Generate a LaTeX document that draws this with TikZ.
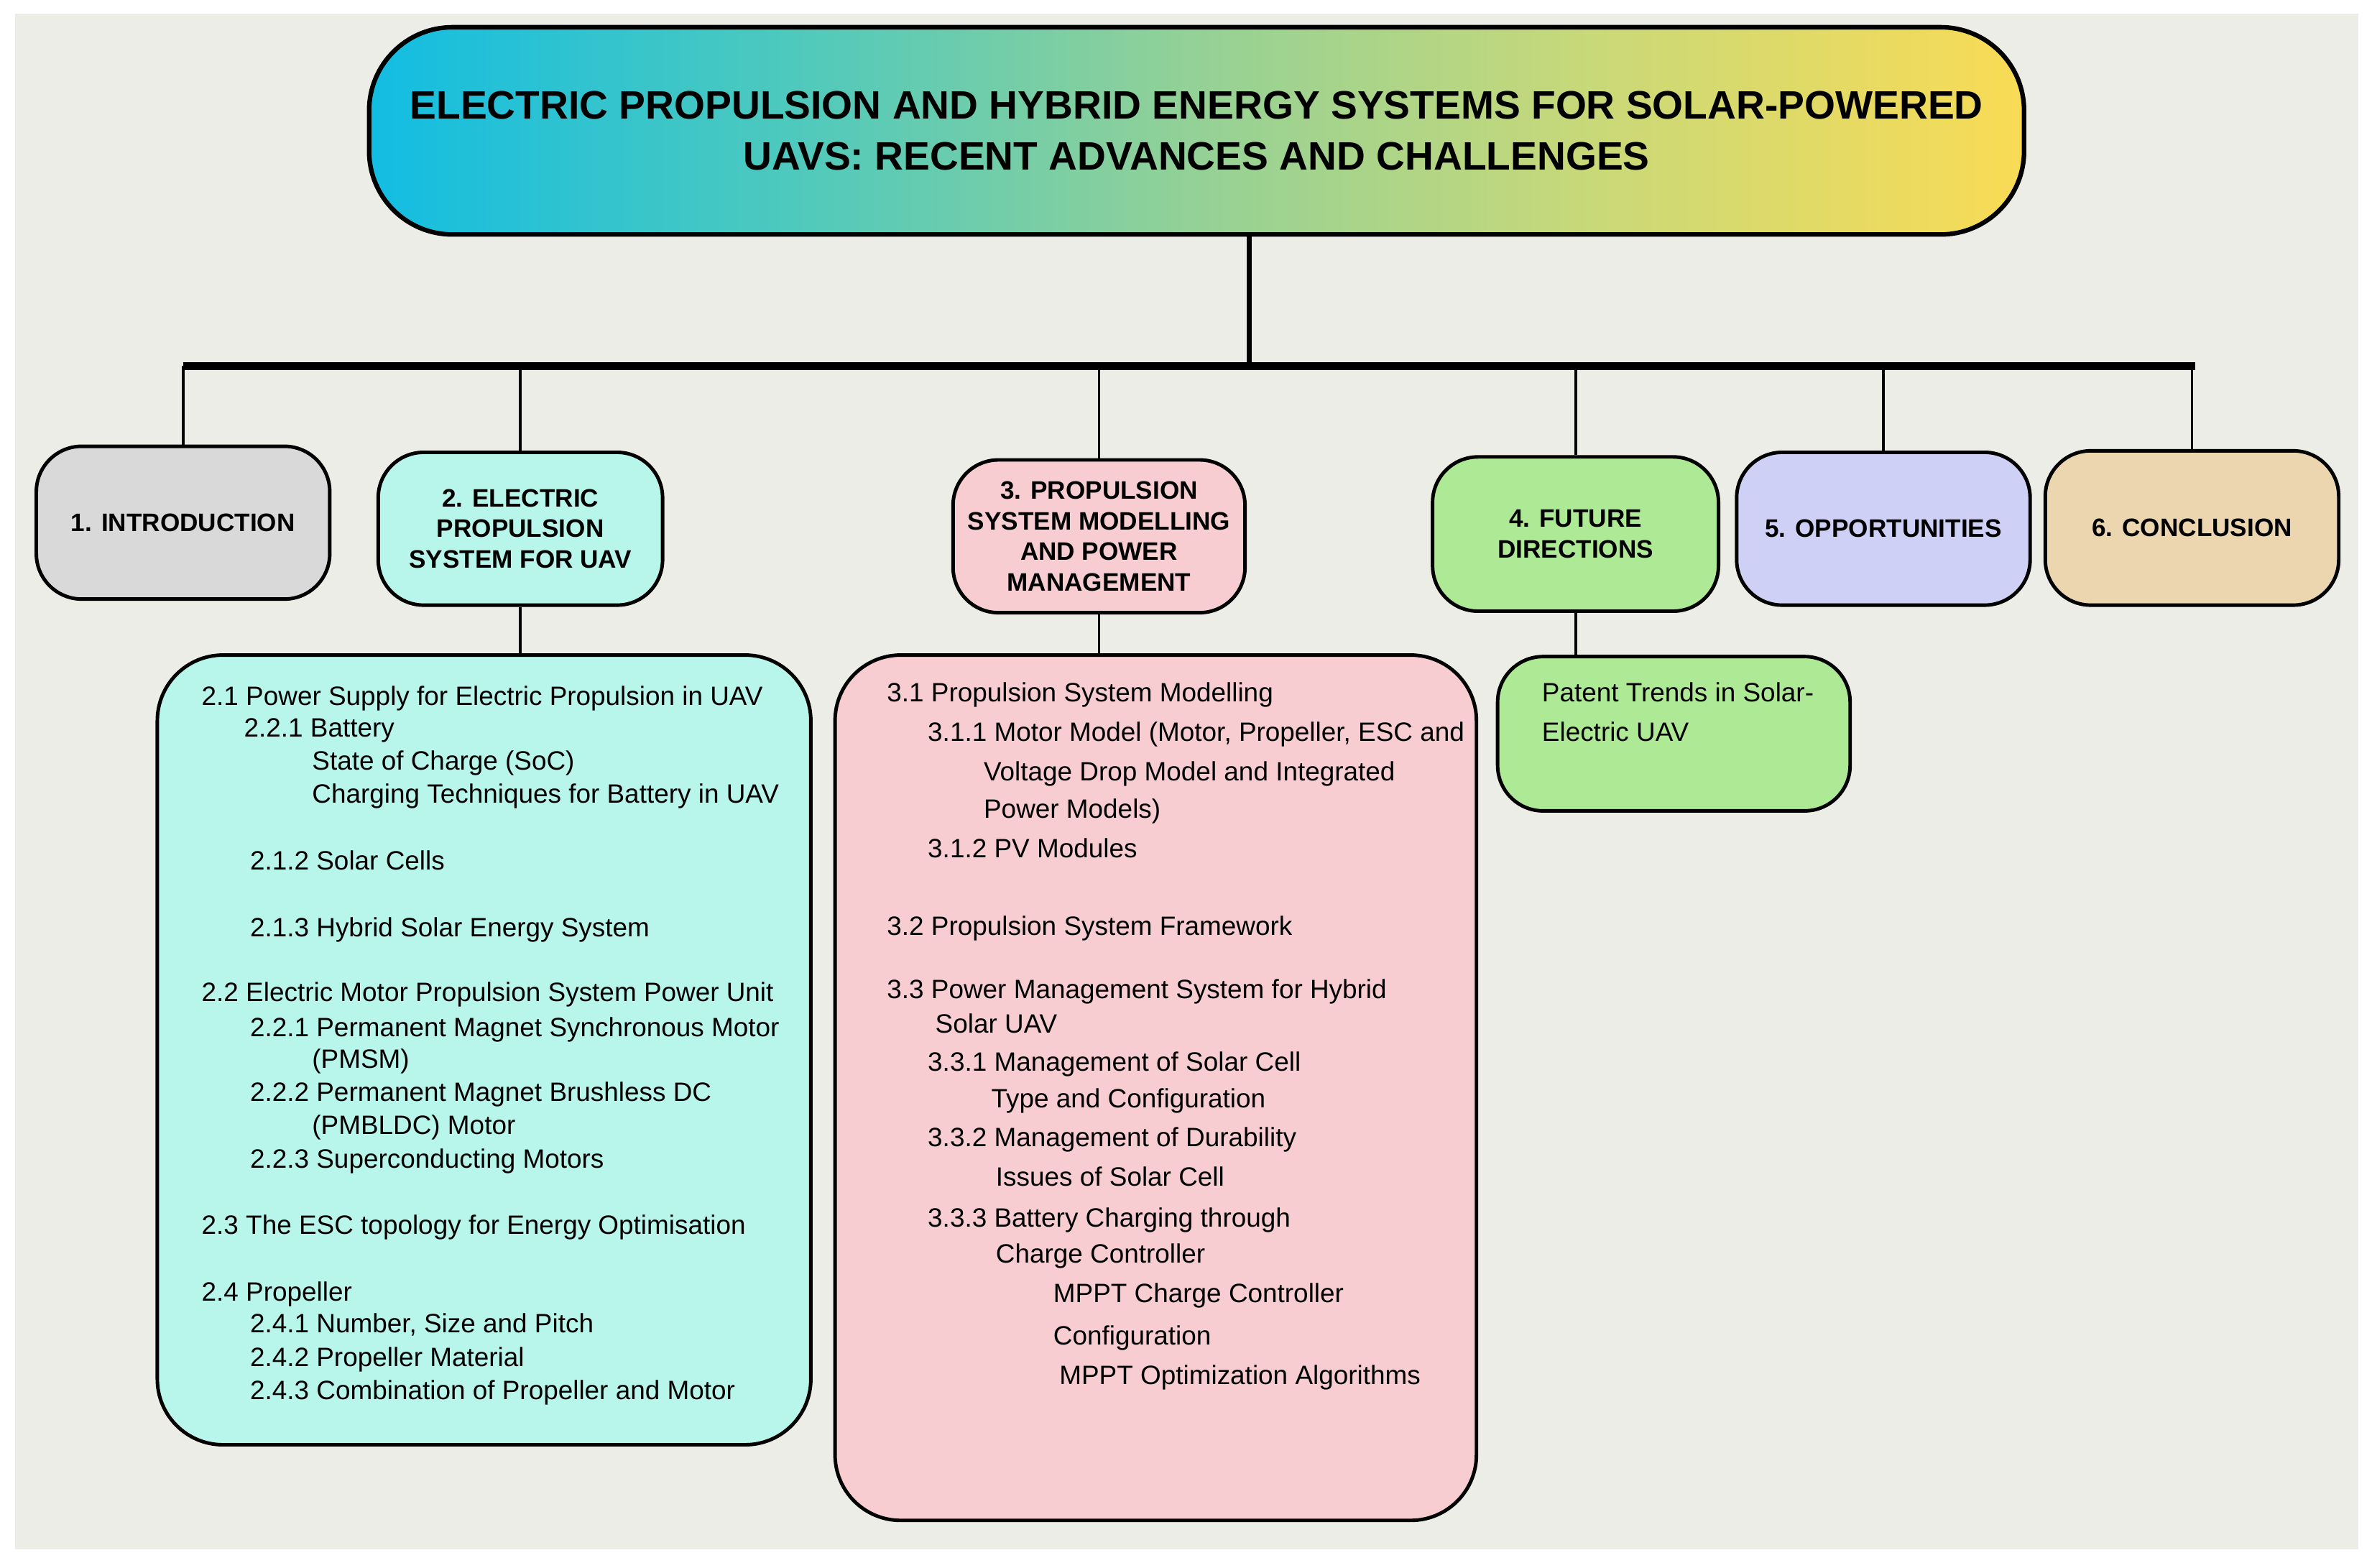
\documentclass[tikz,border=0pt]{standalone}
\usepackage{fontspec}
\setmainfont{Liberation Sans}
\definecolor{bgcol}{HTML}{EDEDE8}
\definecolor{gradL}{HTML}{12BDE2}
\definecolor{gradLM}{HTML}{4DC9BE}
\definecolor{gradM}{HTML}{94D196}
\definecolor{gradMR}{HTML}{CBD977}
\definecolor{gradR}{HTML}{F9DB55}
\definecolor{introcol}{HTML}{D9D9D9}
\definecolor{eleccol}{HTML}{B8F5EA}
\definecolor{propcol}{HTML}{F7CDD2}
\definecolor{futcol}{HTML}{AEEA96}
\definecolor{oppcol}{HTML}{CFD0F5}
\definecolor{conccol}{HTML}{EBD6B0}
\pgfdeclarehorizontalshading{titlegrad}{100bp}{color(0bp)=(gradL); color(25bp)=(gradL); color(37.5bp)=(gradLM); color(50bp)=(gradM); color(62.5bp)=(gradMR); color(75bp)=(gradR); color(100bp)=(gradR)}
\def\px{0.2105mm}

\begin{document}
\begin{tikzpicture}[x=0.2105mm, y=-0.2105mm,
    secbox/.style={draw, line width=1.4pt, rounded corners=18pt, align=center, inner sep=0pt,
        font=\bfseries\fontsize{10}{12.1}\selectfont},
    subbox/.style={draw, line width=1.4pt, rounded corners=26pt},
    item/.style={anchor=base west, inner sep=0pt, font=\fontsize{10.5}{13}\selectfont}]
    \useasboundingbox (0,0) rectangle (1568,1036);
    \fill[white] (0,0) rectangle (1568,1036);
    \fill[bgcol] (10,9) rectangle (1559,1024);

    % Titel
    \node[draw, line width=1.8pt, rounded corners=33pt, shading=titlegrad,
        minimum width=1094*\px, minimum height=137*\px, align=center,
        font=\bfseries\fontsize{15.7}{20.3}\selectfont] (title) at (791,86.5)
        {ELECTRIC PROPULSION AND HYBRID ENERGY SYSTEMS FOR SOLAR-POWERED\\UAVS: RECENT ADVANCES AND CHALLENGES};

    % Kapitel
    \node[secbox, fill=introcol, minimum width=194*\px, minimum height=101*\px] (intro) at (121,345.5) {1. INTRODUCTION};
    \node[secbox, fill=eleccol, minimum width=188*\px, minimum height=101*\px] (elec) at (344,349.5) {2. ELECTRIC\\PROPULSION\\SYSTEM FOR UAV};
    \node[secbox, fill=propcol, minimum width=193*\px, minimum height=101*\px] (prop) at (726.5,354.5) {3. PROPULSION\\SYSTEM MODELLING\\AND POWER\\MANAGEMENT};
    \node[secbox, fill=futcol, minimum width=189*\px, minimum height=102*\px] (fut) at (1041.5,353) {4. FUTURE\\DIRECTIONS};
    \node[secbox, fill=oppcol, minimum width=194*\px, minimum height=101*\px] (opp) at (1245,349.5) {5. OPPORTUNITIES};
    \node[secbox, fill=conccol, minimum width=194*\px, minimum height=102*\px] (concl) at (1449,349) {6. CONCLUSION};

    % Unterpunkte
    \node[subbox, fill=eleccol, minimum width=432*\px, minimum height=522*\px] (elecsub) at (320,694) {};
    \node[subbox, fill=propcol, minimum width=424*\px, minimum height=572*\px] (propsub) at (764,719) {};
    \node[secbox, fill=futcol, minimum width=233*\px, minimum height=102*\px] (patent) at (1106.5,485) {};

    % Verbindungen
    \coordinate (barL) at (121,242);
    \coordinate (barR) at (1451,242);
    \coordinate (trunk) at (826,242);
    \draw[line width=2pt] (trunk |- title.south) -- (trunk);
    \draw[line width=3.2pt] (barL) -- (barR);
    \foreach \n in {intro,elec,prop,fut,opp,concl}
        \draw[line width=1.1pt] (\n.north) -- (\n.north |- barL);
    \draw[line width=1.1pt] (elec.south) -- (elec.south |- elecsub.north);
    \draw[line width=1.1pt] (prop.south) -- (prop.south |- propsub.north);
    \draw[line width=1.1pt] (fut.south) -- (fut.south |- patent.north);

    \foreach \xx/\yy/\txt [count=\i] in {
        133/461/{2.1 Power Supply for Electric Propulsion in UAV},
        161/482/{2.2.1 Battery},
        206/504/{State of Charge (SoC)},
        206/526/{Charging Techniques for Battery in UAV},
        165/570/{2.1.2 Solar Cells},
        165/614/{2.1.3 Hybrid Solar Energy System},
        133/657/{2.2 Electric Motor Propulsion System Power Unit},
        165/680/{2.2.1 Permanent Magnet Synchronous Motor},
        206/701/{(PMSM)},
        165/723/{2.2.2 Permanent Magnet Brushless DC},
        206/745/{(PMBLDC) Motor},
        165/767/{2.2.3 Superconducting Motors},
        133/811/{2.3 The ESC topology for Energy Optimisation},
        133/855/{2.4 Propeller},
        165/876/{2.4.1 Number, Size and Pitch},
        165/898/{2.4.2 Propeller Material},
        165/920/{2.4.3 Combination of Propeller and Motor}}
        \node[item] (el\i) at (\xx,\yy+5) {\txt};

    \foreach \xx/\yy/\txt [count=\i] in {
        586/459/{3.1 Propulsion System Modelling},
        613/485/{3.1.1 Motor Model (Motor, Propeller, ESC and},
        650/511/{Voltage Drop Model and Integrated},
        650/536/{Power Models)},
        613/562/{3.1.2 PV Modules},
        586/613/{3.2 Propulsion System Framework},
        586/655/{3.3 Power Management System for Hybrid},
        618/678/{Solar UAV},
        613/703/{3.3.1 Management of Solar Cell},
        655/727/{Type and Configuration},
        613/753/{3.3.2 Management of Durability},
        658/779/{Issues of Solar Cell},
        613/806/{3.3.3 Battery Charging through},
        658/830/{Charge Controller},
        696/856/{MPPT Charge Controller},
        696/884/{Configuration},
        700/910/{MPPT Optimization Algorithms}}
        \node[item] (pr\i) at (\xx,\yy+5) {\txt};

    \node[item] (pt1) at (1019,464) {Patent Trends in Solar-};
    \node[item] (pt2) at (1019,490) {Electric UAV};
\end{tikzpicture}
\end{document}
